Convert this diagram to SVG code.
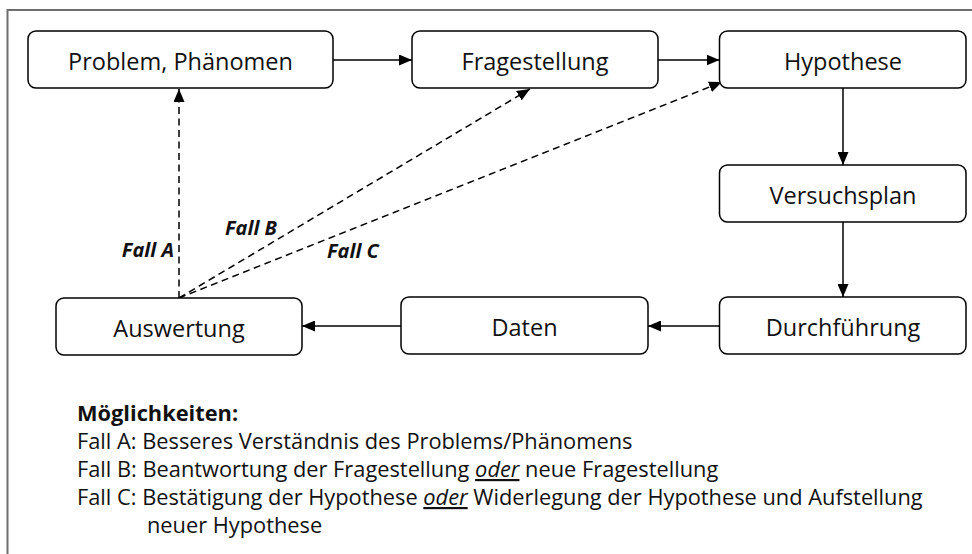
<svg xmlns="http://www.w3.org/2000/svg" width="972" height="554" viewBox="0 0 972 554">
<style>
  .box { fill: #ffffff; stroke: #000000; stroke-width: 1.5; }
  .lbl { font-family: "Open Sans", "Liberation Sans", sans-serif; font-size: 23.5px; fill: #111111; text-anchor: middle; }
  .edge { stroke: #000000; stroke-width: 1.5; fill: none; }
  .dash { stroke: #000000; stroke-width: 1.5; fill: none; stroke-dasharray: 7 4.5; }
  .fall { font-family: "Open Sans", "Liberation Sans", sans-serif; font-size: 20px; font-weight: bold; font-style: italic; fill: #111111; }
  .leg { font-family: "Open Sans", "Liberation Sans", sans-serif; font-size: 21.8px; fill: #111111; }
</style>
<defs>
  <marker id="arr" viewBox="0 0 13 11" refX="13" refY="5.5" markerWidth="13" markerHeight="11" markerUnits="userSpaceOnUse" orient="auto">
    <path d="M0,0 L13,5.5 L0,11 Z" fill="#000000"/>
  </marker>
</defs>
<rect x="7.5" y="10" width="980" height="560" fill="none" stroke="#6e6e6e" stroke-width="2"/>

<g id="connectors">
  <line class="edge" x1="333" y1="60" x2="412" y2="60" marker-end="url(#arr)"/>
  <line class="edge" x1="658" y1="60" x2="719.5" y2="60" marker-end="url(#arr)"/>
  <line class="edge" x1="843" y1="88" x2="843" y2="165" marker-end="url(#arr)"/>
  <line class="edge" x1="843" y1="222" x2="843" y2="297" marker-end="url(#arr)"/>
  <line class="edge" x1="719.5" y1="326" x2="648" y2="326" marker-end="url(#arr)"/>
  <line class="edge" x1="401" y1="326" x2="302" y2="326" marker-end="url(#arr)"/>
  <line class="dash" x1="179" y1="298" x2="179" y2="89" marker-end="url(#arr)"/>
  <line class="dash" x1="179" y1="298" x2="530" y2="89" marker-end="url(#arr)"/>
  <line class="dash" x1="179" y1="298" x2="722" y2="82" marker-end="url(#arr)"/>
  <text class="fall" x="174" y="257" text-anchor="end">Fall A</text>
  <text class="fall" x="225" y="235">Fall B</text>
  <text class="fall" x="327" y="258">Fall C</text>
</g>

<g id="problem">
  <rect class="box" x="28" y="31" width="305" height="57" rx="8"/>
  <text class="lbl" x="180.5" y="70">Problem, Phänomen</text>
</g>
<g id="fragestellung">
  <rect class="box" x="412" y="31" width="246" height="57" rx="8"/>
  <text class="lbl" x="535" y="70">Fragestellung</text>
</g>
<g id="hypothese">
  <rect class="box" x="719.5" y="31" width="246.5" height="57" rx="8"/>
  <text class="lbl" x="843" y="70">Hypothese</text>
</g>
<g id="versuchsplan">
  <rect class="box" x="719.5" y="165" width="246.5" height="57" rx="8"/>
  <text class="lbl" x="843" y="204">Versuchsplan</text>
</g>
<g id="durchfuehrung">
  <rect class="box" x="719.5" y="297" width="246.5" height="57" rx="8"/>
  <text class="lbl" x="843" y="336">Durchführung</text>
</g>
<g id="daten">
  <rect class="box" x="401" y="297" width="247" height="57" rx="8"/>
  <text class="lbl" x="524.5" y="336">Daten</text>
</g>
<g id="auswertung">
  <rect class="box" x="56" y="298" width="246" height="57" rx="8"/>
  <text class="lbl" x="179" y="337">Auswertung</text>
</g>

<g id="legend">
  <text class="leg" x="77" y="421" font-weight="bold">Möglichkeiten:</text>
  <text class="leg" x="77" y="449">Fall A: Besseres Verständnis des Problems/Phänomens</text>
  <text class="leg" x="77" y="477">Fall B: Beantwortung der Fragestellung <tspan font-style="italic" text-decoration="underline">oder</tspan> neue Fragestellung</text>
  <text class="leg" x="77" y="505">Fall C: Bestätigung der Hypothese <tspan font-style="italic" text-decoration="underline">oder</tspan> Widerlegung der Hypothese und Aufstellung</text>
  <text class="leg" x="147" y="533">neuer Hypothese</text>
</g>
</svg>
